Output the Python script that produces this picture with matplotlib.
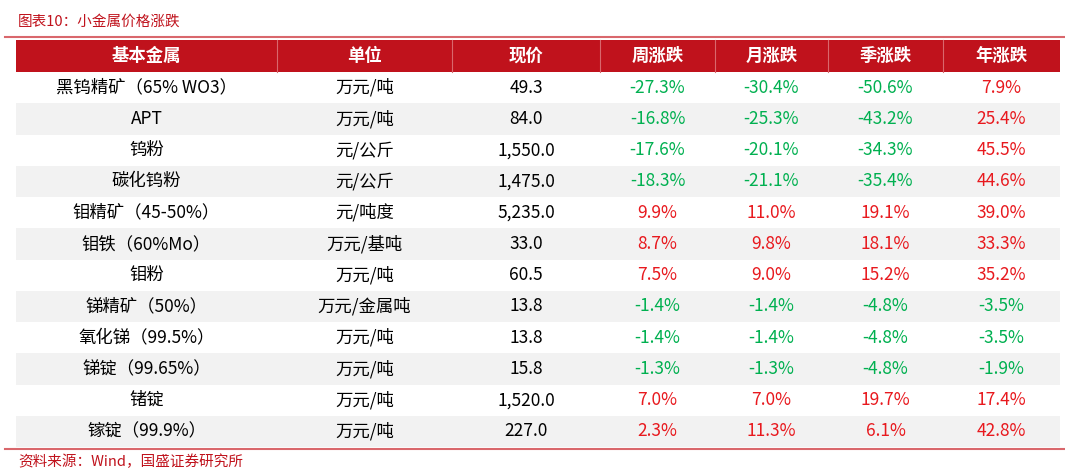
import matplotlib
matplotlib.use("Agg")
import matplotlib.pyplot as plt
from matplotlib.patches import Rectangle

plt.rcParams['font.family'] = ['Noto Sans CJK SC', 'DejaVu Sans']

title = "图表10：小金属价格涨跌"
source = "资料来源：Wind，国盛证券研究所"
headers = ["基本金属", "单位", "现价", "周涨跌", "月涨跌", "季涨跌", "年涨跌"]
metals = ["黑钨精矿（65% WO3）", "APT", "钨粉", "碳化钨粉", "钼精矿（45-50%）", "钼铁（60%Mo）",
          "钼粉", "锑精矿（50%）", "氧化锑（99.5%）", "锑锭（99.65%）", "锗锭", "镓锭（99.9%）"]
units = ["万元/吨", "万元/吨", "元/公斤", "元/公斤", "元/吨度", "万元/基吨",
         "万元/吨", "万元/金属吨", "万元/吨", "万元/吨", "万元/吨", "万元/吨"]
prices = [49.3, 84.0, 1550.0, 1475.0, 5235.0, 33.0, 60.5, 13.8, 13.8, 15.8, 1520.0, 227.0]
week = [-27.3, -16.8, -17.6, -18.3, 9.9, 8.7, 7.5, -1.4, -1.4, -1.3, 7.0, 2.3]
month = [-30.4, -25.3, -20.1, -21.1, 11.0, 9.8, 9.0, -1.4, -1.4, -1.3, 7.0, 11.3]
quarter = [-50.6, -43.2, -34.3, -35.4, 19.1, 18.1, 15.2, -4.8, -4.8, -4.8, 19.7, 6.1]
year = [7.9, 25.4, 45.5, 44.6, 39.0, 33.3, 35.2, -3.5, -3.5, -1.9, 17.4, 42.8]

W, H = 1065, 473
fig = plt.figure(figsize=(W/100, H/100), dpi=100)
ax = fig.add_axes([0, 0, 1, 1])
ax.set_xlim(0, W); ax.set_ylim(H, 0); ax.axis('off')

RED = "#C0121C"; GREEN = "#00B050"; PRED = "#E8191E"
bounds = [16, 277, 452, 600, 715, 828, 943, 1060]
centers = [(bounds[i]+bounds[i+1])/2 for i in range(7)]

ax.text(18, 22, title, color=RED, fontsize=10.5, style='italic', va='center', ha='left')
ax.plot([5, W], [37, 37], color="#D9676C", lw=1.5)

hy0, hy1 = 40, 72
ax.add_patch(Rectangle((bounds[0], hy0), bounds[-1]-bounds[0], hy1-hy0, color=RED, lw=0))
for b in bounds[1:-1]:
    ax.plot([b, b], [hy0, hy1], color="#D9676C", lw=0.8)
for c, h in zip(centers, headers):
    ax.text(c, (hy0+hy1)/2, h, color='white', fontsize=12.5, fontweight='bold', ha='center', va='center')

rh = (447-72)/12
for i in range(12):
    y0 = 72 + i*rh
    if i % 2 == 1:
        ax.add_patch(Rectangle((bounds[0], y0), bounds[-1]-bounds[0], rh, color="#F2F2F2", lw=0))
    yc = y0 + rh/2
    ax.text(centers[0], yc, metals[i], fontsize=12.5, ha='center', va='center', color='black')
    ax.text(centers[1], yc, units[i], fontsize=12.5, ha='center', va='center', color='black')
    ax.text(centers[2], yc, f"{prices[i]:,.1f}", fontsize=12.5, ha='center', va='center', color='black')
    for j, arr in enumerate([week, month, quarter, year]):
        v = arr[i]
        ax.text(centers[3+j], yc, f"{v:.1f}%", fontsize=12.5, ha='center', va='center',
                color=GREEN if v < 0 else PRED)

ax.plot([5, W], [449, 449], color="#D9676C", lw=1.5)
ax.text(18, 462, source, color=RED, fontsize=10.5, style='italic', va='center', ha='left')

fig.savefig("out.png", dpi=100)
